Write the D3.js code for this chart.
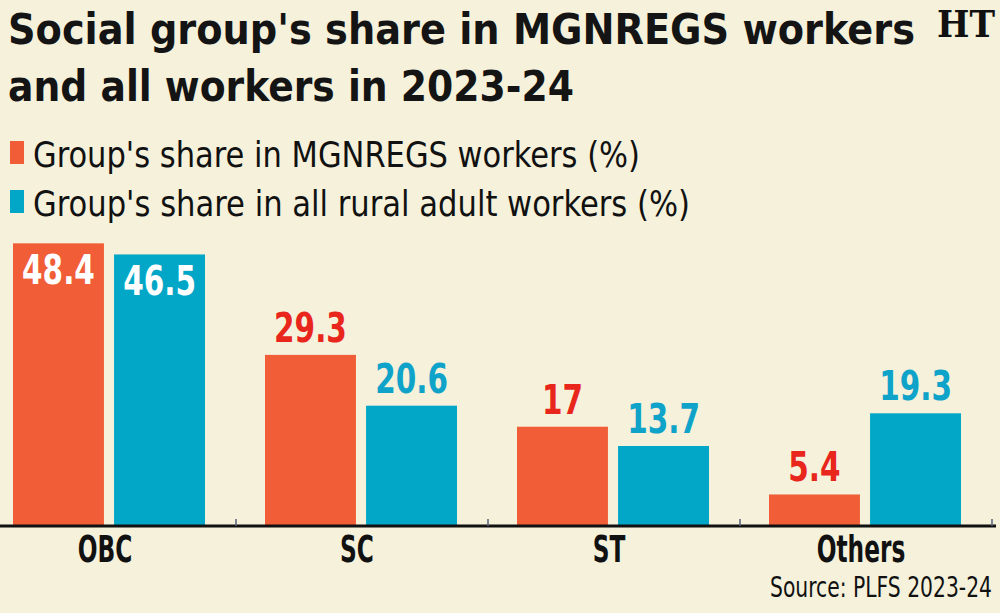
<!DOCTYPE html>
<html>
<head>
<meta charset="utf-8">
<script src="https://cdn.jsdelivr.net/npm/d3@7"></script>
<style>
  html, body { margin: 0; padding: 0; background: #f5f1db; }
  svg { display: block; }
</style>
</head>
<body>
<div id="chart"></div>
<script>
// Social group shares (PLFS 2023-24)
const groups = ["OBC", "SC", "ST", "Others"];
const seriesKeys = ["mgnregs", "rural"];
const seriesLabels = ["Group's share in MGNREGS workers (%)", "Group's share in all rural adult workers (%)"];
const mgnregsShare = [48.4, 29.3, 17, 5.4];
const ruralShare = [46.5, 20.6, 13.7, 19.3];
const valueLabels = [["48.4", "29.3", "17", "5.4"], ["46.5", "20.6", "13.7", "19.3"]];

const W = 1000, H = 613;
const baseline = 526;
const cond = "'DejaVu Sans Condensed', 'DejaVu Sans', sans-serif";

const svg = d3.select("#chart").append("svg")
  .attr("width", W).attr("height", H);

svg.append("rect").attr("width", W).attr("height", H).attr("fill", "#f5f1db");

// Title
const title = svg.append("g").attr("font-family", cond).attr("font-weight", "bold")
  .attr("font-size", 43).attr("fill", "#141414");
title.append("text").attr("x", 8).attr("y", 44)
  .attr("textLength", 907).attr("lengthAdjust", "spacingAndGlyphs")
  .text("Social group's share in MGNREGS workers");
title.append("text").attr("x", 8).attr("y", 101)
  .attr("textLength", 566).attr("lengthAdjust", "spacingAndGlyphs")
  .text("and all workers in 2023-24");

// HT mark
svg.append("text").attr("x", 966).attr("y", 37).attr("text-anchor", "middle")
  .attr("font-family", "'DejaVu Serif', serif").attr("font-weight", "bold")
  .attr("font-size", 38).attr("fill", "#111")
  .attr("textLength", 58).attr("lengthAdjust", "spacingAndGlyphs")
  .text("HT");

// Colours
const color = d3.scaleOrdinal().domain(seriesKeys).range(["#f05d37", "#02a7c7"]);
const labelColor = d3.scaleOrdinal().domain(seriesKeys).range(["#e8261c", "#10a3c9"]);

// Legend
const legend = svg.append("g").attr("font-family", cond).attr("font-size", 36).attr("fill", "#111");
const legendWidths = [607, 657];
seriesKeys.forEach((k, i) => {
  const y = 141 + i * 49;
  legend.append("rect").attr("x", 10).attr("y", y).attr("width", 14).attr("height", 23)
    .attr("fill", color(k));
  legend.append("text").attr("x", 33).attr("y", y + 26)
    .attr("textLength", legendWidths[i]).attr("lengthAdjust", "spacingAndGlyphs")
    .text(seriesLabels[i]);
});

// Scales
const data = groups.map((g, i) => ({ group: g, i, mgnregs: mgnregsShare[i], rural: ruralShare[i] }));

const x0 = d3.scaleBand().domain(groups).range([-16, 992]).padding(0);
const x1 = d3.scaleBand().domain(seriesKeys).range([29, 221]).paddingInner(0.1).paddingOuter(0);
const y = d3.scaleLinear().domain([0, 50]).range([baseline, baseline - 50 * 5.84]);

const g = svg.append("g");

const grp = g.selectAll("g.grp").data(data).join("g")
  .attr("class", "grp")
  .attr("transform", d => `translate(${x0(d.group)},0)`);

const cells = d => seriesKeys.map((k, si) => ({ key: k, si, v: d[k], i: d.i }));

grp.selectAll("rect").data(cells)
  .join("rect")
  .attr("x", d => x1(d.key))
  .attr("y", d => y(d.v))
  .attr("width", x1.bandwidth())
  .attr("height", d => y(0) - y(d.v))
  .attr("fill", d => color(d.key));

// Value labels: inside for tall bars, above otherwise
grp.selectAll("text.val").data(cells)
  .join("text")
  .attr("class", "val")
  .attr("transform", d => {
    const cx = x1(d.key) + x1.bandwidth() / 2;
    const cy = d.v > 40 ? y(d.v) + 41 : y(d.v) - 13;
    return `translate(${cx},${cy}) scale(0.8,1)`;
  })
  .attr("text-anchor", "middle")
  .attr("font-family", cond).attr("font-weight", "bold").attr("font-size", 41)
  .attr("fill", d => d.v > 40 ? "#ffffff" : labelColor(d.key))
  .text(d => valueLabels[d.si][d.i]);

// X axis
const axis = svg.append("g").attr("transform", `translate(0,${baseline})`)
  .call(d3.axisBottom(x0).tickSize(0).tickPadding(0))
  .call(a => a.select(".domain").remove());

axis.selectAll(".tick text")
  .attr("y", 0).attr("dy", 0)
  .attr("transform", "translate(-5,36) scale(0.7,1)")
  .attr("font-family", cond).attr("font-weight", "bold").attr("font-size", 37)
  .attr("fill", "#111");

svg.append("line").attr("x1", 0).attr("x2", 996)
  .attr("y1", baseline).attr("y2", baseline)
  .attr("stroke", "#111").attr("stroke-width", 3);

svg.selectAll("line.sep").data(groups).join("line")
  .attr("class", "sep")
  .attr("x1", d => x0(d) + x0.bandwidth()).attr("x2", d => x0(d) + x0.bandwidth())
  .attr("y1", baseline - 7).attr("y2", baseline)
  .attr("stroke", "#56627a").attr("stroke-width", 1.5);

// Source
svg.append("text").attr("x", 992).attr("y", 597).attr("text-anchor", "end")
  .attr("font-family", cond).attr("font-size", 28).attr("fill", "#111")
  .attr("textLength", 222).attr("lengthAdjust", "spacingAndGlyphs")
  .text("Source: PLFS 2023-24");
</script>
</body>
</html>
